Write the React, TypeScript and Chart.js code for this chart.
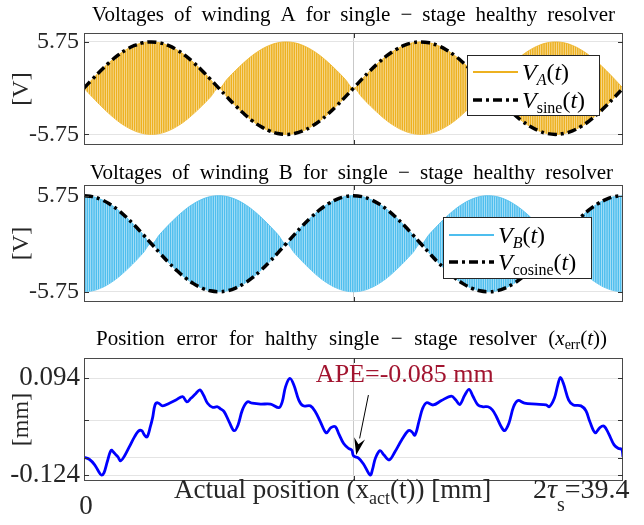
import React, { useEffect, useRef } from "react";
import { Chart, registerables } from "chart.js";

Chart.register(...registerables);

const SERIF = '"Liberation Serif", "Times New Roman", "DejaVu Serif", serif';
const ORANGE = "#EDB120";
const ORANGE_LIGHT = "#f8e2ad";
const CYAN = "#4DBEEE";
const CYAN_LIGHT = "#c0e7f9";
const ERR_BLUE = "#0000FF";
const APE_RED = "#A2142F";

// sample positions along the actual position axis [mm]
const xSamples = [
  0, 0.616, 1.231, 1.847, 2.463, 3.078, 3.694, 4.309, 4.925, 5.541, 6.156, 6.772, 7.388, 8.003, 8.619, 9.234,
  9.85, 10.466, 11.081, 11.697, 12.313, 12.928, 13.544, 14.159, 14.775, 15.391, 16.006, 16.622, 17.238, 17.853, 18.469, 19.084,
  19.7, 20.316, 20.931, 21.547, 22.163, 22.778, 23.394, 24.009, 24.625, 25.241, 25.856, 26.472, 27.088, 27.703, 28.319, 28.934,
  29.55, 30.166, 30.781, 31.397, 32.013, 32.628, 33.244, 33.859, 34.475, 35.091, 35.706, 36.322, 36.938, 37.553, 38.169, 38.784,
  39.4,
];

// V_sine(t) envelope [V]
const vSine = [
  0, 1.12, 2.2, 3.19, 4.07, 4.78, 5.31, 5.64, 5.75, 5.64, 5.31, 4.78, 4.07, 3.19, 2.2, 1.12,
  0, -1.12, -2.2, -3.19, -4.07, -4.78, -5.31, -5.64, -5.75, -5.64, -5.31, -4.78, -4.07, -3.19, -2.2, -1.12,
  0, 1.12, 2.2, 3.19, 4.07, 4.78, 5.31, 5.64, 5.75, 5.64, 5.31, 4.78, 4.07, 3.19, 2.2, 1.12,
  0, -1.12, -2.2, -3.19, -4.07, -4.78, -5.31, -5.64, -5.75, -5.64, -5.31, -4.78, -4.07, -3.19, -2.2, -1.12,
  0,
];

// V_cosine(t) envelope [V]
const vCosine = [
  5.75, 5.64, 5.31, 4.78, 4.07, 3.19, 2.2, 1.12, 0, -1.12, -2.2, -3.19, -4.07, -4.78, -5.31, -5.64,
  -5.75, -5.64, -5.31, -4.78, -4.07, -3.19, -2.2, -1.12, 0, 1.12, 2.2, 3.19, 4.07, 4.78, 5.31, 5.64,
  5.75, 5.64, 5.31, 4.78, 4.07, 3.19, 2.2, 1.12, 0, -1.12, -2.2, -3.19, -4.07, -4.78, -5.31, -5.64,
  -5.75, -5.64, -5.31, -4.78, -4.07, -3.19, -2.2, -1.12, 0, 1.12, 2.2, 3.19, 4.07, 4.78, 5.31, 5.64,
  5.75,
];

// position error x_err(t)
const errX = [
  0, 0.41, 0.78, 1.07, 1.26, 1.46, 1.7, 1.99, 2.23, 2.48, 2.67, 2.96, 3.32, 3.69, 3.98, 4.22,
  4.42, 4.61, 4.85, 5.02, 5.19, 5.39, 5.75, 6.24, 6.72, 7.21, 7.52, 7.81, 8.18, 8.47, 8.74, 9.03,
  9.39, 9.76, 9.95, 10.24, 10.61, 10.97, 11.26, 11.58, 11.94, 12.3, 12.91, 13.64, 14.25, 14.49, 14.73, 15.05,
  15.34, 15.7, 16.02, 16.55, 16.91, 17.28, 17.71, 18.05, 18.37, 18.61, 18.98, 19.34, 19.58, 19.7, 20.07, 20.43,
  20.92, 21.1, 21.3, 21.64, 21.93, 22.32, 22.74, 23.22, 23.71, 23.95, 24.19, 24.51, 24.75, 25.04, 25.53, 26.13,
  26.86, 27.18, 27.47, 27.83, 28.15, 28.44, 28.8, 29.17, 29.53, 29.85, 30.14, 30.5, 30.74, 31.06, 31.4, 31.72,
  32.2, 33.05, 33.78, 34.02, 34.38, 34.63, 34.82, 35.04, 35.43, 35.77, 36.33, 36.69, 36.98, 37.37, 37.71, 38.02,
  38.34, 38.75, 39.07, 39.31, 39.4,
];
const errY = [
  -0.084, -0.089, -0.101, -0.116, -0.124, -0.119, -0.094, -0.068, -0.075, -0.083, -0.092, -0.081, -0.06, -0.038, -0.025, -0.024,
  -0.034, -0.038, -0.015, 0.006, 0.034, 0.039, 0.032, 0.038, 0.045, 0.053, 0.041, 0.049, 0.06, 0.068, 0.056, 0.038,
  0.029, 0.03, 0.026, 0.019, -0.004, -0.024, -0.011, 0.023, 0.041, 0.038, 0.036, 0.036, 0.028, 0.041, 0.075, 0.094,
  0.079, 0.045, 0.032, 0.032, 0.019, -0.004, -0.029, -0.017, -0.015, -0.03, -0.053, -0.064, -0.068, -0.081, -0.086, -0.099,
  -0.124, -0.11, -0.086, -0.069, -0.079, -0.09, -0.071, -0.045, -0.024, -0.026, -0.034, 0.0, 0.026, 0.039, 0.034, 0.044,
  0.054, 0.045, 0.035, 0.056, 0.069, 0.053, 0.034, 0.03, 0.03, 0.023, 0.008, -0.015, -0.024, -0.007, 0.03, 0.044,
  0.038, 0.036, 0.034, 0.03, 0.049, 0.079, 0.096, 0.083, 0.045, 0.034, 0.032, 0.021, -0.004, -0.029, -0.017, -0.014,
  -0.03, -0.056, -0.064, -0.066, -0.083,
];

const voltGrid = [-5.75, 5.75];
const voltTickLabels = ["-5.75", "5.75"];
const errGrid = [-0.124, -0.085, 0, 0.094];
const errTickValues = [-0.124, 0.094];
const errTickLabels = ["-0.124", "0.094"];
const xGrid = [19.7];

// annotation (data coordinates)
const apeText = "APE=-0.085 mm";
const apeTextPos = { x: 23.45, y: 0.1015 };
const apeArrowFrom = { x: 20.79, y: 0.0564 };
const apeArrowTo = { x: 19.9, y: -0.079 };

type Run = { t: string; size: number; italic?: boolean; dy?: number };

function runFont(r: Run) {
  return `${r.italic ? "italic " : ""}${r.size}px ${SERIF}`;
}
function runsWidth(ctx: CanvasRenderingContext2D, runs: Run[]) {
  let w = 0;
  for (const r of runs) {
    ctx.font = runFont(r);
    w += ctx.measureText(r.t).width;
  }
  return w;
}
function drawRuns(ctx: CanvasRenderingContext2D, runs: Run[], x: number, y: number) {
  ctx.textAlign = "left";
  ctx.textBaseline = "alphabetic";
  for (const r of runs) {
    ctx.font = runFont(r);
    ctx.fillText(r.t, x, y + (r.dy || 0));
    x += ctx.measureText(r.t).width;
  }
  return x;
}
function drawJustified(ctx: CanvasRenderingContext2D, words: Run[][], left: number, right: number, y: number) {
  const widths = words.map((w) => runsWidth(ctx, w));
  const total = widths.reduce((a, b) => a + b, 0);
  const gap = (right - left - total) / (words.length - 1);
  let x = left;
  words.forEach((w, i) => {
    drawRuns(ctx, w, x, y);
    x += widths[i] + gap;
  });
}
const plainWords = (s: string, size: number): Run[][] => s.split(" ").map((t) => [{ t, size }]);

function stripePattern(base: string, light: string) {
  const c = document.createElement("canvas");
  c.width = 9;
  c.height = 4;
  const g = c.getContext("2d")!;
  g.fillStyle = base;
  g.fillRect(0, 0, 9, 4);
  g.fillStyle = light;
  for (const sx of [0.3, 2.55, 4.8, 7.05]) g.fillRect(sx, 0, 0.75, 4);
  return g.createPattern(c, "repeat")!;
}

function drawFrame(chart: any, gridVals: number[], labels: [number, string][], yLabel: string, fontSize: number, labelRight: number, yLabelSize: number) {
  const { ctx, chartArea: a, scales } = chart;
  ctx.save();
  ctx.strokeStyle = "#4a4a4a";
  ctx.lineWidth = 1;
  ctx.strokeRect(a.left + 0.5, a.top + 0.5, a.right - a.left - 1, a.bottom - a.top - 1);
  ctx.strokeStyle = "#333";
  ctx.beginPath();
  for (const v of gridVals) {
    const y = Math.round(scales.y.getPixelForValue(v)) + 0.5;
    ctx.moveTo(a.left, y);
    ctx.lineTo(a.left + 5, y);
    ctx.moveTo(a.right - 5, y);
    ctx.lineTo(a.right, y);
  }
  for (const v of xGrid) {
    const x = Math.round(scales.x.getPixelForValue(v)) + 0.5;
    ctx.moveTo(x, a.top);
    ctx.lineTo(x, a.top + 5);
    ctx.moveTo(x, a.bottom - 5);
    ctx.lineTo(x, a.bottom);
  }
  ctx.stroke();
  ctx.fillStyle = "#262626";
  ctx.font = `${fontSize}px ${SERIF}`;
  ctx.textAlign = "right";
  ctx.textBaseline = "middle";
  for (const [v, s] of labels) {
    ctx.fillText(s, labelRight, scales.y.getPixelForValue(v));
  }
  ctx.save();
  ctx.translate(22, (a.top + a.bottom) / 2);
  ctx.rotate(-Math.PI / 2);
  ctx.textAlign = "center";
  ctx.textBaseline = "middle";
  ctx.font = `${yLabelSize}px ${SERIF}`;
  ctx.fillText(yLabel, 0, 0);
  ctx.restore();
  ctx.restore();
}

function drawLegend(ctx: CanvasRenderingContext2D, box: { x: number; y: number; w: number; h: number }, rows: { dy: number; color: string; dash: number[]; width: number; runs: Run[] }[]) {
  ctx.save();
  ctx.fillStyle = "#fff";
  ctx.fillRect(box.x, box.y, box.w, box.h);
  ctx.strokeStyle = "#262626";
  ctx.lineWidth = 1;
  ctx.strokeRect(box.x + 0.5, box.y + 0.5, box.w, box.h);
  for (const r of rows) {
    const cy = box.y + r.dy;
    ctx.beginPath();
    ctx.setLineDash(r.dash);
    ctx.strokeStyle = r.color;
    ctx.lineWidth = r.width;
    ctx.moveTo(box.x + 6, cy);
    ctx.lineTo(box.x + 51, cy);
    ctx.stroke();
    ctx.setLineDash([]);
    ctx.fillStyle = "#000";
    drawRuns(ctx, r.runs, box.x + 55, cy + 8);
  }
  ctx.restore();
}

const DASH = [9, 4, 3, 4];

function baseOptions(yMin: number, yMax: number, grid: number[], padTop: number, padBottom: number) {
  return {
    responsive: false,
    animation: false as const,
    layout: { padding: { left: 0, right: 21, top: padTop, bottom: padBottom } },
    plugins: { legend: { display: false }, tooltip: { enabled: false }, title: { display: false } },
    elements: { point: { radius: 0 } },
    scales: {
      x: {
        type: "linear" as const,
        min: 0,
        max: 39.4,
        border: { display: false },
        ticks: { display: false },
        grid: { drawTicks: false, color: "#c9c9c9", lineWidth: 1 },
        afterBuildTicks: (s: any) => {
          s.ticks = xGrid.map((value) => ({ value }));
        },
        afterFit: (s: any) => {
          s.height = 0;
        },
      },
      y: {
        type: "linear" as const,
        min: yMin,
        max: yMax,
        border: { display: false },
        ticks: { display: false },
        grid: { drawTicks: false, color: "#e4e4e4", lineWidth: 1 },
        afterBuildTicks: (s: any) => {
          s.ticks = grid.map((value) => ({ value }));
        },
        afterFit: (s: any) => {
          s.width = 84;
        },
      },
    },
  };
}

function makeVoltChart(canvas: HTMLCanvasElement, panel: "A" | "B") {
  const isA = panel === "A";
  const env = isA ? vSine : vCosine;
  const color = isA ? ORANGE : CYAN;
  const pattern = stripePattern(color, isA ? ORANGE_LIGHT : CYAN_LIGHT);
  const pts = (arr: number[]) => xSamples.map((x, i) => ({ x, y: arr[i] }));
  const upper = env.map((v) => Math.abs(v));
  const lower = env.map((v) => -Math.abs(v));
  const opts: any = isA ? baseOptions(-7.07, 6.86, voltGrid, 33, 15) : baseOptions(-6.98, 7.03, voltGrid, 25, 18);
  const titleWords = plainWords(
    isA ? "Voltages of winding A for single − stage healthy resolver" : "Voltages of winding B for single − stage healthy resolver",
    21
  );
  const legendRows = isA
    ? [
        { dy: 17, color: ORANGE, dash: [], width: 2, runs: [{ t: "V", size: 24, italic: true }, { t: "A", size: 16, italic: true, dy: 5 }, { t: "(", size: 24 }, { t: "t", size: 24, italic: true }, { t: ")", size: 24 }] },
        { dy: 45, color: "#000", dash: DASH, width: 3.5, runs: [{ t: "V", size: 24, italic: true }, { t: "sine", size: 16, dy: 5 }, { t: "(", size: 24 }, { t: "t", size: 24, italic: true }, { t: ")", size: 24 }] },
      ]
    : [
        { dy: 18, color: CYAN, dash: [], width: 2, runs: [{ t: "V", size: 24, italic: true }, { t: "B", size: 16, italic: true, dy: 5 }, { t: "(", size: 24 }, { t: "t", size: 24, italic: true }, { t: ")", size: 24 }] },
        { dy: 45, color: "#000", dash: DASH, width: 3.5, runs: [{ t: "V", size: 24, italic: true }, { t: "cosine", size: 16, dy: 5 }, { t: "(", size: 24 }, { t: "t", size: 24, italic: true }, { t: ")", size: 24 }] },
      ];
  const legendBox = isA ? { x: 467, y: 55, w: 132, h: 60 } : { x: 443, y: 57, w: 148, h: 61 };
  return new Chart(canvas, {
    type: "line",
    data: {
      datasets: [
        { data: pts(env), borderColor: "#000", borderWidth: 3.5, borderDash: DASH, tension: 0.4, fill: false, pointRadius: 0 },
        { data: pts(upper), borderColor: color, borderWidth: 0.8, backgroundColor: pattern, fill: "+1", tension: 0.4, pointRadius: 0 },
        { data: pts(lower), borderColor: color, borderWidth: 0.8, fill: false, tension: 0.4, pointRadius: 0 },
      ],
    },
    options: opts,
    plugins: [
      {
        id: "decor" + panel,
        afterDraw(chart: any) {
          const ctx = chart.ctx as CanvasRenderingContext2D;
          drawFrame(chart, voltGrid, voltGrid.map((v, i) => [v, voltTickLabels[i]] as [number, string]), "[V]", 24, 79, 24);
          ctx.save();
          ctx.fillStyle = "#000";
          if (isA) drawJustified(ctx, titleWords, 92, 615, 21);
          else drawJustified(ctx, titleWords, 90, 613, 19);
          ctx.restore();
          drawLegend(ctx, legendBox, legendRows as any);
        },
      },
    ],
  } as any);
}

function makeErrChart(canvas: HTMLCanvasElement) {
  const opts: any = baseOptions(-0.1375, 0.14, errGrid, 38, 44);
  const titleWords: Run[][] = [
    ...plainWords("Position error for halthy single − stage resolver", 21),
    [
      { t: "(", size: 21 },
      { t: "x", size: 21, italic: true },
      { t: "err", size: 14, dy: 4 },
      { t: "(", size: 21 },
      { t: "t", size: 21, italic: true },
      { t: "))", size: 21 },
    ],
  ];
  return new Chart(canvas, {
    type: "line",
    data: {
      datasets: [
        {
          data: errX.map((x, i) => ({ x, y: errY[i] })),
          borderColor: ERR_BLUE,
          borderWidth: 2.8,
          tension: 0.35,
          fill: false,
          pointRadius: 0,
        },
      ],
    },
    options: opts,
    plugins: [
      {
        id: "decorErr",
        afterDraw(chart: any) {
          const ctx = chart.ctx as CanvasRenderingContext2D;
          const { x: xs, y: ys } = chart.scales;
          drawFrame(chart, errGrid, errTickValues.map((v, i) => [v, errTickLabels[i]] as [number, string]), "[mm]", 27, 80, 24);
          ctx.save();
          ctx.fillStyle = "#000";
          drawJustified(ctx, titleWords, 96, 607, 25);
          // annotation
          ctx.fillStyle = APE_RED;
          ctx.font = `26px ${SERIF}`;
          ctx.textAlign = "center";
          ctx.textBaseline = "middle";
          ctx.fillText(apeText, xs.getPixelForValue(apeTextPos.x), ys.getPixelForValue(apeTextPos.y));
          const x1 = xs.getPixelForValue(apeArrowFrom.x);
          const y1 = ys.getPixelForValue(apeArrowFrom.y);
          const x2 = xs.getPixelForValue(apeArrowTo.x);
          const y2 = ys.getPixelForValue(apeArrowTo.y);
          const ang = Math.atan2(y2 - y1, x2 - x1);
          const hl = 17;
          const hw = 5.5;
          const bx = x2 - hl * Math.cos(ang);
          const by = y2 - hl * Math.sin(ang);
          ctx.strokeStyle = "#000";
          ctx.lineWidth = 1;
          ctx.beginPath();
          ctx.moveTo(x1, y1);
          ctx.lineTo(bx, by);
          ctx.stroke();
          ctx.fillStyle = "#000";
          ctx.beginPath();
          ctx.moveTo(x2, y2);
          ctx.lineTo(bx + hw * Math.sin(ang), by - hw * Math.cos(ang));
          ctx.lineTo(bx + 0.35 * hl * Math.cos(ang), by + 0.35 * hl * Math.sin(ang));
          ctx.lineTo(bx - hw * Math.sin(ang), by + hw * Math.cos(ang));
          ctx.closePath();
          ctx.fill();
          // x tick labels
          ctx.fillStyle = "#262626";
          ctx.textAlign = "center";
          ctx.textBaseline = "alphabetic";
          ctx.font = `27px ${SERIF}`;
          ctx.fillText("0", xs.getPixelForValue(0) + 2, 194);
          drawRuns(
            ctx,
            [
              { t: "Actual position (x", size: 27 },
              { t: "act", size: 18, dy: 6 },
              { t: "(t)) [mm]", size: 27 },
            ],
            174,
            178
          );
          drawRuns(
            ctx,
            [
              { t: "2", size: 28 },
              { t: "τ", size: 28, italic: true },
              { t: "s", size: 20, dy: 13 },
              { t: "=39.4", size: 28 },
            ],
            533,
            178
          );
          ctx.restore();
        },
      },
    ],
  } as any);
}

export default function App() {
  const r1 = useRef<HTMLCanvasElement>(null);
  const r2 = useRef<HTMLCanvasElement>(null);
  const r3 = useRef<HTMLCanvasElement>(null);
  useEffect(() => {
    const charts = [makeVoltChart(r1.current!, "A"), makeVoltChart(r2.current!, "B"), makeErrChart(r3.current!)];
    return () => charts.forEach((c) => c.destroy());
  }, []);
  return (
    <div style={{ position: "absolute", left: 0, top: 0, width: 644, height: 525, background: "#fff", overflow: "hidden" }}>
      <canvas ref={r1} width={644} height={160} style={{ position: "absolute", left: 0, top: 0 }} />
      <canvas ref={r2} width={644} height={160} style={{ position: "absolute", left: 0, top: 160 }} />
      <canvas ref={r3} width={644} height={205} style={{ position: "absolute", left: 0, top: 320 }} />
    </div>
  );
}
